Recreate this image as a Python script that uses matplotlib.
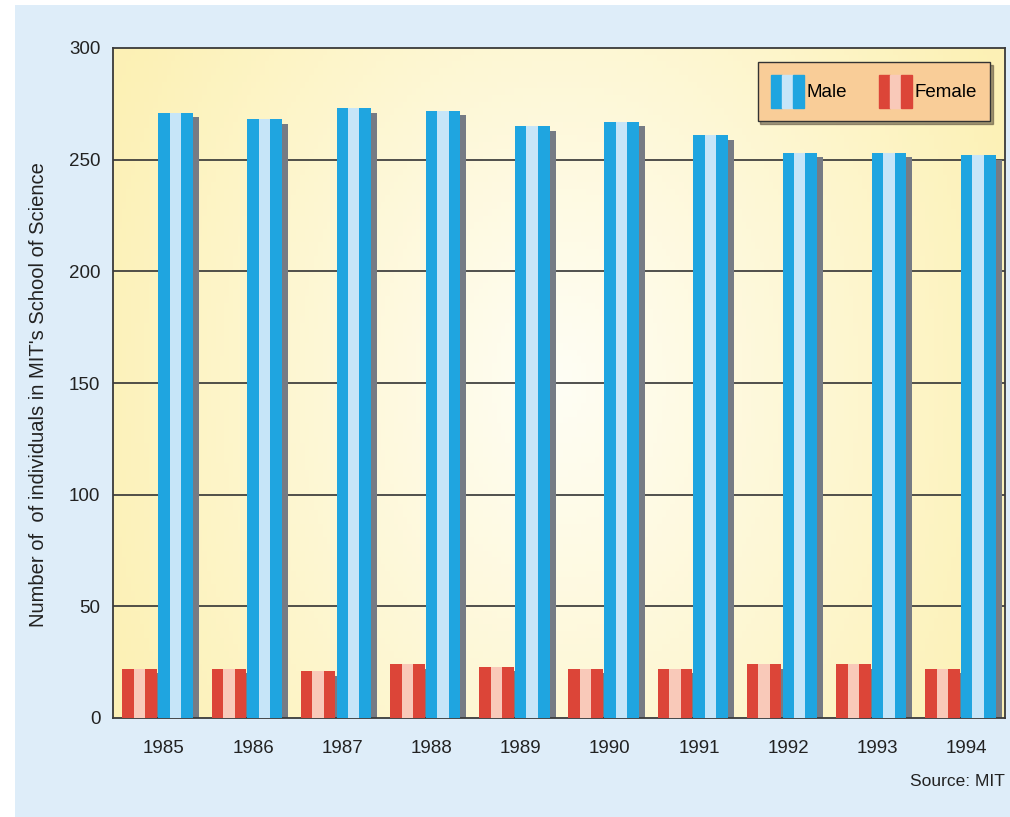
import numpy as np
import matplotlib.pyplot as plt
from matplotlib.patches import Patch, Rectangle
from matplotlib.legend_handler import HandlerTuple

plt.rcParams['font.family'] = ['Liberation Sans', 'DejaVu Sans']

years = ['1985', '1986', '1987', '1988', '1989', '1990', '1991', '1992', '1993', '1994']
male = [271, 268, 273, 272, 265, 267, 261, 253, 253, 252]
female = [22, 22, 21, 24, 23, 22, 22, 24, 24, 22]

blue, blue_light = '#1fa5e0', '#c6e5f8'
red, red_light = '#dc4538', '#f9c9b9'

fig = plt.figure(figsize=(10.1, 8.17), dpi=100)
fig.patch.set_facecolor('white')
fig.add_artist(Rectangle((15 / 1010, 0), 1, 1 - 5 / 817, transform=fig.transFigure,
                         facecolor='#deedf9', edgecolor='none', zorder=-10))

ax = fig.add_axes([113 / 1010, 1 - 718 / 817, 892 / 1010, 670 / 817])
ax.set_xlim(-0.5, 9.5)
ax.set_ylim(0, 300)

# background gradient
xs = np.linspace(-1, 1, 200)
ys = np.linspace(-1, 1, 100)
X, Y = np.meshgrid(xs, ys)
t = np.clip(np.sqrt((X * 0.9) ** 2 + (Y * 0.5) ** 2), 0, 1)
c0 = np.array([1.0, 0.995, 0.96])
c1 = np.array([0.99, 0.945, 0.71])
img = c0 + (c1 - c0) * t[..., None]
ax.imshow(img, extent=(-0.5, 9.5, 0, 300), aspect='auto', zorder=0, origin='lower')

for y in [50, 100, 150, 200, 250]:
    ax.axhline(y, color='#333333', lw=1.2, zorder=1)

x = np.arange(len(years))
w = 0.385
fx = x - 0.2
mx = x + 0.2
sub = w / 3

# shadows
ax.bar(mx + 0.07, np.array(male) - 2, width=w, color='#767b84', zorder=2)
ax.bar(fx + 0.07, np.array(female) - 2, width=w, color='#767b84', zorder=2)

# striped bars
for k, (cm, cf) in enumerate([(blue, red), (blue_light, red_light), (blue, red)]):
    off = -w / 2 + sub / 2 + k * sub
    ax.bar(mx + off, male, width=sub + 0.002, color=cm, zorder=3, lw=0)
    ax.bar(fx + off, female, width=sub + 0.002, color=cf, zorder=3, lw=0)

ax.set_xticks(x + 0.07)
ax.set_xticklabels(years)
ax.set_yticks([0, 50, 100, 150, 200, 250, 300])
ax.tick_params(axis='both', length=0, labelsize=13.5, colors='#222222')
ax.tick_params(axis='x', pad=16)
ax.tick_params(axis='y', pad=9)
for s in ax.spines.values():
    s.set_color('#3a3a3a')
    s.set_linewidth(1.3)

ax.set_ylabel("Number of  of individuals in MIT's School of Science", fontsize=14.5,
              color='#222222', labelpad=15)
ax.yaxis.label.set_y(0.482)

h_m = (Patch(color=blue), Patch(color=blue_light), Patch(color=blue))
h_f = (Patch(color=red), Patch(color=red_light), Patch(color=red))
leg = ax.legend([h_m, h_f], ['Male', 'Female'],
                handler_map={tuple: HandlerTuple(ndivide=None, pad=0)},
                loc='upper right', bbox_to_anchor=(0.983, 0.979), borderaxespad=0,
                ncol=2, fontsize=13.5, frameon=True, fancybox=False, shadow=True,
                handlelength=1.8, handleheight=2.3, handletextpad=0.1,
                columnspacing=1.7, borderpad=0.7)
leg.get_frame().set_facecolor('#f9cd98')
leg.get_frame().set_edgecolor('#333333')
leg.get_frame().set_alpha(1)
leg.set_zorder(5)

fig.text(1005 / 1010, 1 - 781 / 817, 'Source: MIT', ha='right', va='center',
         fontsize=12.5, color='#222222')

plt.savefig('out.png', dpi=100)
